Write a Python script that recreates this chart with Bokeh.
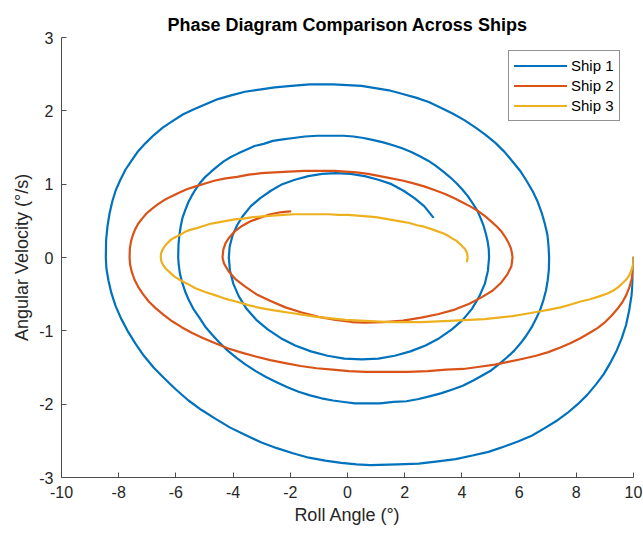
from bokeh.plotting import figure
from bokeh.models import Range1d, FixedTicker, Legend, LegendItem
from bokeh.embed import file_html
from bokeh.resources import INLINE

# ---- values (roll angle in deg, angular velocity in deg/s) ----
ship1_angle = [
    10.00, 9.98, 9.93, 9.85, 9.74, 9.59, 9.41, 9.20, 8.96, 8.69, 8.39, 8.05, 7.69, 7.30, 6.88, 6.44,
    5.96, 5.46, 4.93, 4.37, 3.78, 3.16, 2.49, 1.75, 0.80,
    0.32, -0.22, -0.78, -1.35, -1.91, -2.47, -3.03, -3.57, -4.10, -4.61, -5.10, -5.56, -6.00, -6.40,
    -6.78, -7.12, -7.42, -7.69, -7.92, -8.11, -8.26, -8.36, -8.43, -8.45,
    -8.44, -8.39, -8.32, -8.22, -8.10, -7.94, -7.76, -7.55, -7.32, -7.06, -6.77, -6.46, -6.12, -5.76,
    -5.37, -4.96, -4.53, -4.07, -3.59, -3.08, -2.54, -1.96, -1.32, -0.50,
    -0.01, 0.49, 0.97, 1.45, 1.93, 2.39, 2.84, 3.28, 3.69, 4.10, 4.48, 4.84, 5.18, 5.49, 5.77, 6.04,
    6.27, 6.48, 6.65, 6.79, 6.90, 6.99, 7.03, 7.05,
    7.04, 7.00, 6.94, 6.85, 6.74, 6.60, 6.44, 6.26, 6.05, 5.83, 5.58, 5.31, 5.02, 4.71, 4.38, 4.03,
    3.67, 3.29, 2.90, 2.49, 2.06, 1.61, 1.14, 0.60,
    0.26, -0.12, -0.51, -0.91, -1.31, -1.71, -2.10, -2.48, -2.85, -3.21, -3.56, -3.88, -4.19, -4.48,
    -4.74, -4.98, -5.18, -5.39, -5.55, -5.68, -5.78, -5.86, -5.90, -5.92,
    -5.91, -5.88, -5.83, -5.77, -5.68, -5.57, -5.45, -5.31, -5.15, -4.97, -4.77, -4.56, -4.33, -4.08,
    -3.82, -3.54, -3.25, -2.93, -2.61, -2.26, -1.89, -1.49, -1.06, -0.50,
    -0.14, 0.21, 0.56, 0.91, 1.25, 1.59, 1.91, 2.23, 2.53, 2.82, 3.09, 3.35, 3.60, 3.82, 4.03, 4.22,
    4.39, 4.54, 4.66, 4.76, 4.84, 4.90, 4.94, 4.95,
    4.91, 4.80, 4.61, 4.35, 4.03, 3.65, 3.21, 2.73, 2.20, 1.65, 1.08, 0.50,
    -0.11, -0.70, -1.28, -1.83, -2.33, -2.79, -3.19, -3.53, -3.80, -3.99, -4.11, -4.15,
    -4.12, -4.02, -3.86, -3.65, -3.38, -3.05, -2.68, -2.28, -1.84, -1.37, -0.89, -0.40,
    0.11, 0.60, 1.08, 1.54, 1.96, 2.34, 2.68, 2.99,
]
ship1_velocity = [
    0.00, -0.29, -0.52, -0.72, -0.92, -1.10, -1.27, -1.43, -1.59, -1.73, -1.87, -2.00, -2.12, -2.23, -2.33, -2.43,
    -2.51, -2.58, -2.65, -2.70, -2.75, -2.78, -2.81, -2.82, -2.83,
    -2.82, -2.80, -2.77, -2.73, -2.67, -2.60, -2.52, -2.42, -2.32, -2.20, -2.08, -1.95, -1.80, -1.65,
    -1.50, -1.34, -1.17, -1.00, -0.83, -0.66, -0.48, -0.31, -0.15, 0.00,
    0.24, 0.43, 0.60, 0.77, 0.92, 1.06, 1.20, 1.32, 1.45, 1.56, 1.67, 1.77, 1.86, 1.95,
    2.02, 2.09, 2.16, 2.21, 2.26, 2.29, 2.32, 2.34, 2.36, 2.36,
    2.35, 2.34, 2.31, 2.28, 2.23, 2.18, 2.12, 2.04, 1.96, 1.87, 1.77, 1.67, 1.56, 1.44, 1.31, 1.18,
    1.04, 0.90, 0.76, 0.61, 0.46, 0.31, 0.15, 0.00,
    -0.17, -0.31, -0.45, -0.58, -0.71, -0.83, -0.95, -1.06, -1.17, -1.27, -1.36, -1.45, -1.54, -1.61, -1.68, -1.75,
    -1.80, -1.85, -1.89, -1.93, -1.96, -1.97, -1.99, -1.99,
    -1.99, -1.97, -1.95, -1.92, -1.88, -1.83, -1.77, -1.70, -1.63, -1.55, -1.46, -1.37, -1.27, -1.16,
    -1.05, -0.94, -0.82, -0.70, -0.58, -0.46, -0.34, -0.22, -0.10, 0.00,
    0.17, 0.30, 0.43, 0.54, 0.64, 0.75, 0.84, 0.93, 1.02, 1.10, 1.17, 1.24, 1.31, 1.37,
    1.42, 1.47, 1.52, 1.55, 1.59, 1.61, 1.63, 1.65, 1.66, 1.66,
    1.66, 1.65, 1.63, 1.60, 1.57, 1.53, 1.49, 1.44, 1.38, 1.32, 1.25, 1.17, 1.09, 1.01, 0.92, 0.83,
    0.73, 0.64, 0.53, 0.43, 0.32, 0.22, 0.11, 0.00,
    -0.18, -0.36, -0.53, -0.70, -0.85, -0.98, -1.10, -1.20, -1.28, -1.34, -1.38, -1.39,
    -1.38, -1.34, -1.28, -1.20, -1.10, -0.98, -0.85, -0.70, -0.53, -0.36, -0.18, 0.00,
    0.15, 0.30, 0.44, 0.57, 0.70, 0.81, 0.91, 1.00, 1.06, 1.11, 1.14, 1.15,
    1.14, 1.11, 1.06, 1.00, 0.91, 0.81, 0.70, 0.55,
]

ship2_angle = [
    10.00, 9.98, 9.94, 9.86, 9.75, 9.61, 9.44, 9.24, 9.01, 8.75, 8.46, 8.14, 7.79, 7.42, 7.02, 6.59,
    6.14, 5.66, 5.15, 4.62, 4.05, 3.45, 2.81, 2.11, 1.20,
    0.62, 0.05, -0.52, -1.08, -1.64, -2.18, -2.70, -3.21, -3.67, -4.17, -4.62, -5.04, -5.43, -5.80,
    -6.13, -6.44, -6.71, -6.95, -7.15, -7.32, -7.45, -7.54, -7.60, -7.62,
    -7.61, -7.57, -7.51, -7.43, -7.32, -7.18, -7.03, -6.85, -6.65, -6.42, -6.18, -5.91, -5.62, -5.31,
    -4.98, -4.63, -4.26, -3.86, -3.45, -3.01, -2.55, -2.05, -1.50, -0.80,
    -0.46, -0.07, 0.32, 0.72, 1.13, 1.53, 1.92, 2.31, 2.68, 3.04, 3.39, 3.72, 4.03, 4.32, 4.58, 4.82,
    5.03, 5.23, 5.39, 5.53, 5.63, 5.71, 5.75, 5.77,
    5.73, 5.59, 5.38, 5.08, 4.70, 4.26, 3.75, 3.19, 2.58, 1.94, 1.27, 0.60,
    0.15, -0.41, -1.01, -1.60, -2.17, -2.71, -3.19, -3.60, -3.93, -4.17, -4.32, -4.37,
    -4.34, -4.26, -4.12, -3.93, -3.69, -3.41, -3.07, -2.70, -2.29, -2.00,
]
ship2_velocity = [
    0.00, -0.16, -0.29, -0.40, -0.51, -0.61, -0.70, -0.79, -0.88, -0.96, -1.03, -1.10, -1.17, -1.23, -1.29, -1.34,
    -1.38, -1.42, -1.46, -1.49, -1.52, -1.53, -1.55, -1.56, -1.56,
    -1.56, -1.55, -1.53, -1.51, -1.48, -1.44, -1.40, -1.35, -1.30, -1.24, -1.17, -1.10, -1.03, -0.95,
    -0.87, -0.78, -0.69, -0.60, -0.50, -0.40, -0.30, -0.20, -0.10, 0.00,
    0.12, 0.22, 0.30, 0.38, 0.46, 0.53, 0.60, 0.66, 0.72, 0.78, 0.83, 0.88, 0.93, 0.97,
    1.01, 1.05, 1.08, 1.10, 1.13, 1.15, 1.16, 1.17, 1.18, 1.18,
    1.18, 1.17, 1.16, 1.14, 1.11, 1.08, 1.05, 1.01, 0.97, 0.92, 0.87, 0.81, 0.75, 0.69, 0.63, 0.56,
    0.49, 0.42, 0.35, 0.27, 0.20, 0.13, 0.06, 0.00,
    -0.12, -0.23, -0.34, -0.45, -0.54, -0.63, -0.71, -0.77, -0.82, -0.86, -0.88, -0.89,
    -0.88, -0.85, -0.81, -0.75, -0.68, -0.59, -0.50, -0.39, -0.29, -0.18, -0.08, 0.00,
    0.11, 0.20, 0.28, 0.36, 0.43, 0.49, 0.54, 0.59, 0.62, 0.63,
]

ship3_angle = [
    10.00, 9.99, 9.94, 9.87, 9.77, 9.64, 9.48, 9.30, 9.09, 8.80, 8.48, 8.15, 7.81, 7.45, 7.06, 6.65,
    6.21, 5.76, 5.28, 4.79, 4.27, 3.73, 3.17, 2.58, 1.90,
    1.46, 0.97, 0.46, -0.06, -0.57, -1.08, -1.59, -2.08, -2.57, -3.03, -3.47, -3.90, -4.29, -4.66,
    -4.98, -5.32, -5.59, -5.84, -6.05, -6.22, -6.36, -6.45, -6.51, -6.53,
    -6.52, -6.49, -6.43, -6.36, -6.26, -6.15, -6.01, -5.85, -5.68, -5.48, -5.27, -5.04, -4.79, -4.52,
    -4.24, -3.94, -3.63, -3.31, -2.97, -2.62, -2.25, -1.87, -1.46, -1.00,
    -0.66, -0.32, 0.02, 0.35, 0.67, 0.99, 1.30, 1.60, 1.89, 2.17, 2.43, 2.68, 2.91, 3.13, 3.34, 3.50,
    3.66, 3.80, 3.92, 4.02, 4.10, 4.16, 4.19, 4.20, 4.18,
]
ship3_velocity = [
    0.00, -0.09, -0.16, -0.23, -0.29, -0.34, -0.40, -0.45, -0.49, -0.53, -0.57, -0.60, -0.64, -0.68, -0.71, -0.74,
    -0.77, -0.80, -0.82, -0.84, -0.85, -0.86, -0.87, -0.88, -0.88,
    -0.88, -0.87, -0.86, -0.85, -0.83, -0.81, -0.78, -0.75, -0.72, -0.69, -0.65, -0.60, -0.56, -0.51,
    -0.47, -0.42, -0.36, -0.31, -0.26, -0.20, -0.15, -0.10, -0.05, 0.00,
    0.05, 0.09, 0.13, 0.17, 0.21, 0.25, 0.28, 0.31, 0.35, 0.38, 0.40, 0.43, 0.46, 0.48,
    0.50, 0.52, 0.53, 0.55, 0.56, 0.57, 0.58, 0.59, 0.59, 0.59,
    0.59, 0.58, 0.58, 0.57, 0.56, 0.55, 0.53, 0.51, 0.49, 0.47, 0.44, 0.42, 0.39, 0.36, 0.33, 0.30,
    0.26, 0.23, 0.19, 0.15, 0.12, 0.08, 0.04, 0.00, -0.05,
]

series_names = ["Ship 1", "Ship 2", "Ship 3"]
series_colors = ["#0072BD", "#D95319", "#EDB120"]
x_ticks = [-10, -8, -6, -4, -2, 0, 2, 4, 6, 8, 10]
y_ticks = [-3, -2, -1, 0, 1, 2, 3]

FONT = "Liberation Sans"
TXT = "#262626"

p = figure(width=643, height=534, output_backend="svg", toolbar_location=None,
           x_range=Range1d(-10, 10), y_range=Range1d(-3, 3),
           min_border_left=61, min_border_right=10, min_border_top=37, min_border_bottom=57)
p.background_fill_color = "white"
p.border_fill_color = "white"
p.outline_line_color = None
p.grid.visible = False

p.title.text = "Phase Diagram Comparison Across Ships"
p.title.align = "center"
p.title.text_font = FONT
p.title.text_font_size = "18px"
p.title.text_font_style = "bold"
p.title.text_color = "#000000"
p.title.standoff = 6

p.xaxis.ticker = FixedTicker(ticks=x_ticks)
p.yaxis.ticker = FixedTicker(ticks=y_ticks)
p.xaxis.major_label_overrides = {t: str(t) for t in x_ticks}
p.yaxis.major_label_overrides = {t: str(t) for t in y_ticks}
p.xaxis.axis_label = "Roll Angle (°)"
p.yaxis.axis_label = "Angular Velocity (°/s)"

for ax in (p.xaxis[0], p.yaxis[0]):
    ax.axis_line_color = "#4d4d4d"
    ax.axis_line_width = 1
    ax.major_tick_line_color = "#4d4d4d"
    ax.major_tick_in = 5
    ax.major_tick_out = 0
    ax.minor_tick_line_color = None
    ax.major_label_text_font = FONT
    ax.major_label_text_font_size = "16px"
    ax.major_label_text_color = TXT
    ax.axis_label_text_font = FONT
    ax.axis_label_text_font_size = "18px"
    ax.axis_label_text_font_style = "normal"
    ax.axis_label_text_color = TXT
p.xaxis.major_label_standoff = 8
p.xaxis.axis_label_standoff = 4
p.yaxis.major_label_standoff = 8
p.yaxis.axis_label_standoff = 4

renderers = []
for xs, ys, c in [(ship1_angle, ship1_velocity, series_colors[0]),
                  (ship2_angle, ship2_velocity, series_colors[1]),
                  (ship3_angle, ship3_velocity, series_colors[2])]:
    r = p.line(xs, ys, line_color=c, line_width=2.2, line_join="round", line_cap="round")
    renderers.append(r)

legend = Legend(items=[LegendItem(label=n, renderers=[r]) for n, r in zip(series_names, renderers)],
                location=(447, 356))
legend.border_line_color = TXT
legend.border_line_width = 1
legend.background_fill_color = "white"
legend.background_fill_alpha = 1
legend.label_text_font = FONT
legend.label_text_font_size = "15px"
legend.label_text_color = "#000000"
legend.glyph_width = 53
legend.glyph_height = 19
legend.label_height = 19
legend.padding = 5
legend.spacing = 1
legend.margin = 0
legend.label_standoff = 4
p.add_layout(legend)

open("out.html", "w").write(file_html(p, INLINE))
